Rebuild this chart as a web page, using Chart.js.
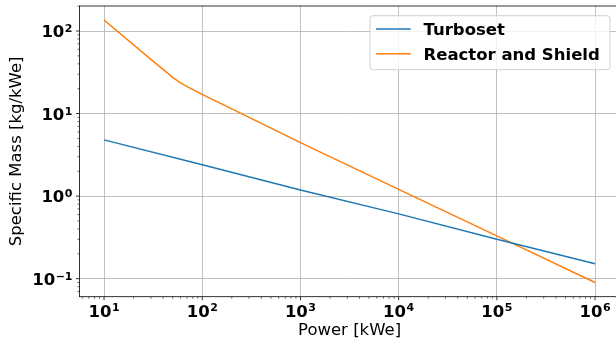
<!DOCTYPE html>
<html>
<head>
<meta charset="utf-8">
<script src="https://cdn.jsdelivr.net/npm/chart.js@4/dist/chart.umd.min.js"></script>
<style>
  html, body { margin: 0; padding: 0; background: #fff; overflow: hidden; width: 616px; height: 341px; }
  #wrap { position: relative; width: 622px; height: 341px; }
</style>
</head>
<body>
<div id="wrap"><canvas id="c"></canvas></div>
<script>
// ---- data ----
const seriesLabels = ["Turboset", "Reactor and Shield"];
const powerTurboset = [10, 100, 1000, 10000, 100000, 1000000];
const massTurboset  = [4.8, 2.4, 1.19, 0.61, 0.3, 0.152];
const powerReactor  = [10, 30, 50, 60, 70, 100, 1000, 10000, 100000, 1000000];
const massReactor   = [136, 45.3, 27.4, 23.6, 21.2, 17.1, 4.45, 1.21, 0.33, 0.09];
const xTickExponents = [1, 2, 3, 4, 5, 6];
const yTickExponents = [-1, 0, 1, 2];
const xTitle = "Power [kWe]";
const yTitle = "Specific Mass [kg/kWe]";
const colors = ["#1f77b4", "#ff7f0e"];

const FONT = '"DejaVu Sans", "Liberation Sans", sans-serif';

function toPts(xs, ys) { return xs.map((x, i) => ({ x: x, y: ys[i] })); }

function minorValues(min, max) {
  const out = [];
  for (let d = -3; d <= 7; d++) {
    for (let m = 2; m <= 9; m++) {
      const v = m * Math.pow(10, d);
      if (v >= min && v <= max) out.push(v);
    }
  }
  return out;
}

function drawPow(ctx, exp, x, baseY, align, raise) {
  const main = "10";
  const sup = exp < 0 ? "\u2212" + Math.abs(exp) : String(exp);
  ctx.font = "bold 16.5px " + FONT;
  const wm = ctx.measureText(main).width;
  ctx.font = "bold 11px " + FONT;
  const ws = ctx.measureText(sup).width;
  const total = wm + ws + 0.5;
  let x0;
  if (align === "center") x0 = x - total / 2;
  else x0 = x - total; // right
  ctx.textAlign = "left";
  ctx.textBaseline = "alphabetic";
  ctx.fillStyle = "#000";
  ctx.font = "bold 16.5px " + FONT;
  ctx.fillText(main, x0, baseY);
  ctx.font = "bold 11px " + FONT;
  ctx.fillText(sup, x0 + wm + 0.5, baseY - raise);
}

const decor = {
  id: "decor",
  afterDraw(chart) {
    const ctx = chart.ctx;
    const a = chart.chartArea;
    const xs = chart.scales.x, ys = chart.scales.y;
    ctx.save();
    // frame
    ctx.strokeStyle = "#000";
    ctx.lineWidth = 0.8;
    ctx.strokeRect(a.left, a.top, a.right - a.left, a.bottom - a.top);
    // major ticks
    ctx.lineWidth = 0.8;
    ctx.beginPath();
    xTickExponents.forEach(e => {
      const px = xs.getPixelForValue(Math.pow(10, e));
      ctx.moveTo(px, a.bottom); ctx.lineTo(px, a.bottom + 3.5);
    });
    yTickExponents.forEach(e => {
      const py = ys.getPixelForValue(Math.pow(10, e));
      ctx.moveTo(a.left, py); ctx.lineTo(a.left - 3.5, py);
    });
    ctx.stroke();
    // minor ticks
    ctx.lineWidth = 0.6;
    ctx.beginPath();
    minorValues(xs.min, xs.max).forEach(v => {
      const px = xs.getPixelForValue(v);
      ctx.moveTo(px, a.bottom); ctx.lineTo(px, a.bottom + 2);
    });
    minorValues(ys.min, ys.max).forEach(v => {
      const py = ys.getPixelForValue(v);
      ctx.moveTo(a.left, py); ctx.lineTo(a.left - 2, py);
    });
    ctx.stroke();
    // tick labels
    xTickExponents.forEach(e => {
      const px = xs.getPixelForValue(Math.pow(10, e));
      drawPow(ctx, e, px, a.bottom + 20, "center", 5.5);
    });
    yTickExponents.forEach(e => {
      const py = ys.getPixelForValue(Math.pow(10, e));
      drawPow(ctx, e, a.left - 7, py + 6.3, "right", 5);
    });
    // axis titles
    ctx.fillStyle = "#000";
    ctx.font = "16.5px " + FONT;
    ctx.textAlign = "center";
    ctx.textBaseline = "alphabetic";
    ctx.fillText(xTitle, (a.left + a.right) / 2, 335);
    ctx.save();
    ctx.translate(21, (a.top + a.bottom) / 2);
    ctx.rotate(-Math.PI / 2);
    ctx.fillText(yTitle, 0, 0);
    ctx.restore();
    // legend
    const bx = 370, by = 15.7, bw = 240, bh = 54, r = 3;
    ctx.beginPath();
    ctx.moveTo(bx + r, by);
    ctx.lineTo(bx + bw - r, by); ctx.quadraticCurveTo(bx + bw, by, bx + bw, by + r);
    ctx.lineTo(bx + bw, by + bh - r); ctx.quadraticCurveTo(bx + bw, by + bh, bx + bw - r, by + bh);
    ctx.lineTo(bx + r, by + bh); ctx.quadraticCurveTo(bx, by + bh, bx, by + bh - r);
    ctx.lineTo(bx, by + r); ctx.quadraticCurveTo(bx, by, bx + r, by);
    ctx.closePath();
    ctx.fillStyle = "rgba(255,255,255,0.8)";
    ctx.fill();
    ctx.strokeStyle = "#d0d0d0";
    ctx.lineWidth = 1;
    ctx.stroke();
    const rows = [29, 53.7];
    chart.data.datasets.forEach((ds, i) => {
      const y = rows[i];
      ctx.strokeStyle = ds.borderColor;
      ctx.lineWidth = 1.5;
      ctx.beginPath();
      ctx.moveTo(376, y); ctx.lineTo(410.7, y);
      ctx.stroke();
      ctx.fillStyle = "#000";
      ctx.font = "bold 16.5px " + FONT;
      ctx.textAlign = "left";
      ctx.textBaseline = "alphabetic";
      ctx.fillText(ds.label, 423.5, y + 6);
    });
    ctx.restore();
  }
};

new Chart(document.getElementById("c"), {
  type: "line",
  data: {
    datasets: [
      { label: seriesLabels[0], data: toPts(powerTurboset, massTurboset), borderColor: colors[0], backgroundColor: colors[0] },
      { label: seriesLabels[1], data: toPts(powerReactor, massReactor), borderColor: colors[1], backgroundColor: colors[1] }
    ]
  },
  options: {
    animation: false,
    responsive: true,
    maintainAspectRatio: false,
    layout: { padding: { left: 79.5, top: 6, right: 2.4, bottom: 44.3 } },
    elements: { point: { radius: 0 }, line: { borderWidth: 1.5, tension: 0 } },
    plugins: { legend: { display: false }, tooltip: { enabled: false } },
    scales: {
      x: {
        type: "logarithmic",
        min: Math.pow(10, 0.75),
        max: Math.pow(10, 6.25),
        afterBuildTicks: s => { s.ticks = xTickExponents.map(e => ({ value: Math.pow(10, e) })); },
        ticks: { display: false },
        grid: { color: "#b0b0b0", lineWidth: 0.8, drawTicks: false },
        border: { display: false }
      },
      y: {
        type: "logarithmic",
        min: Math.pow(10, -1.218),
        max: Math.pow(10, 2.303),
        afterBuildTicks: s => { s.ticks = yTickExponents.map(e => ({ value: Math.pow(10, e) })); },
        ticks: { display: false },
        grid: { color: "#b0b0b0", lineWidth: 0.8, drawTicks: false },
        border: { display: false }
      }
    }
  },
  plugins: [decor]
});
</script>
</body>
</html>
